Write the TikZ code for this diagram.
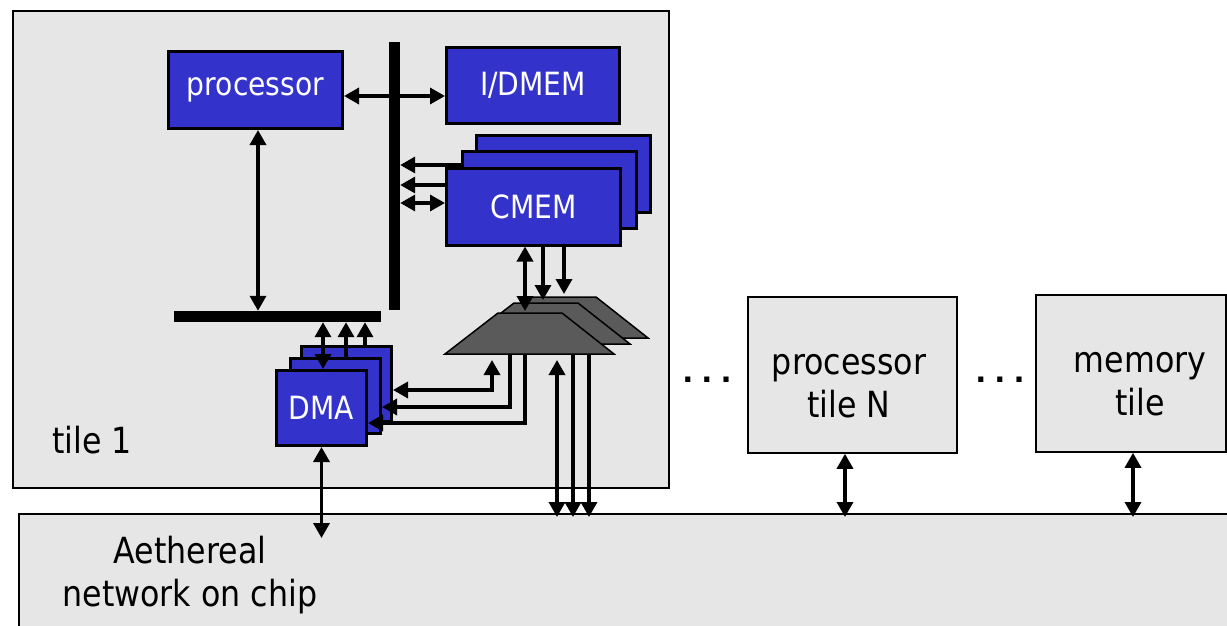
\documentclass[tikz,border=0pt]{standalone}
\usepackage{fontspec}
\setmainfont{DejaVu Sans}[FakeStretch=0.88]
\newfontfamily\dotfont{DejaVu Sans Bold}
\usetikzlibrary{arrows.meta,calc}
\definecolor{bg}{RGB}{230,230,230}
\definecolor{blu}{RGB}{51,51,204}
\definecolor{trap}{RGB}{90,90,90}
\begin{document}
\begin{tikzpicture}[x=1pt,y=-1pt,
  tile/.style={draw=black, line width=1.6pt, fill=bg, inner sep=0pt},
  blk/.style={draw=black, line width=3pt, fill=blu, text=white, font=\fontsize{32}{34}\selectfont, inner sep=0pt},
  bus/.style={fill=black, draw=none, inner sep=0pt},
  lbl/.style={font=\fontsize{36}{43}\selectfont, align=center, inner sep=0pt},
  conn/.style={line width=3.4pt, -{Triangle[length=15pt,width=16pt]}},
  dconn/.style={line width=3.4pt, {Triangle[length=15pt,width=16pt]}-{Triangle[length=15pt,width=16pt]}},
  trp/.style={draw=black, line width=1.5pt, fill=trap, line join=miter}
]
\useasboundingbox (0,0) rectangle (1227,626);
\fill[white] (0,0) rectangle (1227,626);

% tiles and network
\node[tile, minimum width=656pt, minimum height=477pt, anchor=north west] (tile1) at (12,10) {};
\node[tile, minimum width=1240pt, minimum height=130pt, anchor=north west] (net) at (18,513) {};
\node[tile, minimum width=209pt, minimum height=156pt] (procN) at (852.5,375) {};
\node[tile, minimum width=190pt, minimum height=157pt] (memtile) at (1131,373.5) {};

% buses
\node[bus, minimum width=11pt, minimum height=268pt] (vbus) at (394.5,176) {};
\node[bus, minimum width=207pt, minimum height=11pt] (hbus) at (277.5,316.5) {};

% blue blocks
\node[blk, minimum width=174pt, minimum height=77pt] (proc) at (255.5,90) {processor};
\node[blk, minimum width=173pt, minimum height=76pt] (idmem) at (533,85.5) {I/DMEM};
\node[blk, minimum width=174pt, minimum height=77pt] (cmem3) at (563.5,174) {};
\node[blk, minimum width=174pt, minimum height=77pt] (cmem2) at (549.5,189.5) {};
\node[blk, minimum width=174pt, minimum height=77pt] (cmem1) at (533.5,206.5) {CMEM};
\node[blk, minimum width=90pt, minimum height=75pt] (dma3) at (346.5,384) {};
\node[blk, minimum width=90pt, minimum height=75pt] (dma2) at (335.5,395.5) {};
\node[blk, minimum width=90pt, minimum height=75pt] (dma1) at (321.5,408) {DMA};

% multiplexers (trapezoids)
\draw[trp] (479,338) -- (532,297) -- (596,297) -- (648,338) -- cycle;
\draw[trp] (461,344) -- (514,303) -- (578,303) -- (630,344) -- cycle;
\draw[trp] (445,354) -- (498,313) -- (562,313) -- (614,354) -- cycle;
\coordinate (t1top) at (530,311);
\coordinate (t2top) at (546,300);
\coordinate (t3top) at (564,294);
\coordinate (t1bot) at (530,354);

% connectors
\draw[dconn] (proc.east |- 0,96) -- (idmem.west |- 0,96);
\draw[dconn] (proc.south -| 258,0) -- (hbus.north -| 258,0);
\draw[conn] (cmem2.west |- 0,165) -- (vbus.east |- 0,165);
\draw[conn] (cmem1.west |- 0,185) -- (vbus.east |- 0,185);
\draw[dconn] (vbus.east |- 0,203) -- (cmem1.west |- 0,203);
\draw[dconn] (cmem1.south -| 525,0) -- (t1top -| 525,0);
\draw[conn] (cmem1.south -| 543,0) -- (t2top -| 543,0);
\draw[conn] (cmem1.south -| 564,0) -- (t3top -| 564,0);
\draw[dconn, shorten <=6pt] (t1bot -| 557,0) -- ($(net.north -| 557,0)+(0,4)$);
\draw[conn] (t1bot -| 573,0) -- ($(net.north -| 573,0)+(0,4)$);
\draw[conn] (t1bot -| 589,0) -- ($(net.north -| 589,0)+(0,4)$);
\draw[dconn, shorten >=6pt] (dma3.east |- 0,390) -| (t1bot -| 492,0);
\draw[conn] (t1bot -| 510,0) |- (dma2.east |- 0,407);
\draw[conn] (t1bot -| 525,0) |- (dma1.east |- 0,423);
\draw[dconn] (hbus.south -| 323,0) -- (dma1.north -| 323,0);
\draw[conn] (dma2.north -| 346,0) -- (hbus.south -| 346,0);
\draw[conn] (dma3.north -| 365,0) -- (hbus.south -| 365,0);
\draw[dconn] (dma1.south) -- ($(net.north -| dma1.south)+(0,25)$);
\draw[dconn] (procN.south -| 845,0) -- ($(net.north -| 845,0)+(0,4)$);
\draw[dconn] (memtile.south -| 1133,0) -- ($(net.north -| 1133,0)+(0,4)$);

% labels
\node[lbl] (t1lbl) at (92,440) {tile 1};
\node[lbl] (pnlbl) at (849,386) {processor\\tile N};
\node[lbl] (mtlbl) at (1140,384) {memory\\tile};
\node[lbl] (netlbl) at (190,575) {Aethereal\\network on chip};
\node[font=\dotfont\fontsize{29}{30}\selectfont, inner sep=0pt] (dots1) at (707,380) {.\hspace{8pt}.\hspace{8pt}.};
\node[font=\dotfont\fontsize{29}{30}\selectfont, inner sep=0pt] (dots2) at (1000,380) {.\hspace{8pt}.\hspace{8pt}.};
\end{tikzpicture}
\end{document}
